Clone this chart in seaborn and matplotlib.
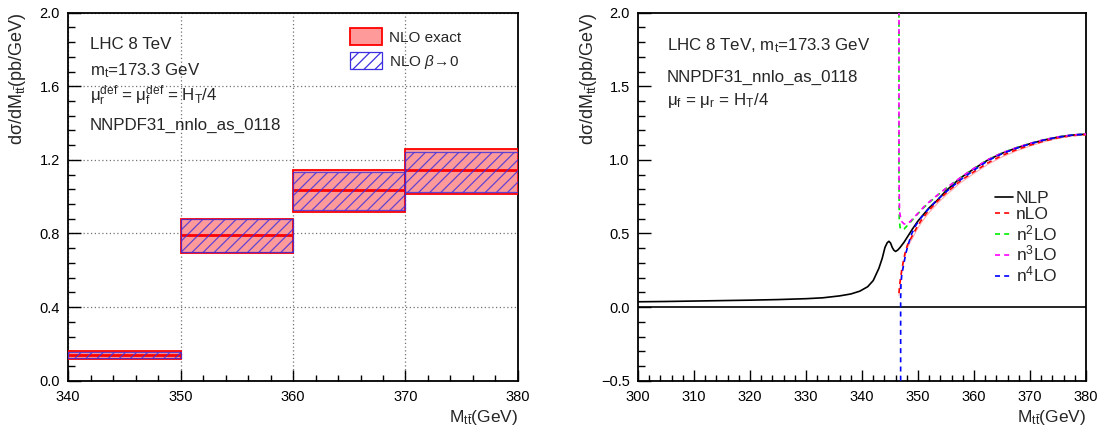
import numpy as np
import pandas as pd
import seaborn as sns
import matplotlib.pyplot as plt
from matplotlib.patches import Patch
from matplotlib.lines import Line2D

# ---- left panel: binned NLO cross section ----
bin_lo = [340, 350, 360, 370]
bin_hi = [350, 360, 370, 380]
nlo_central = [0.1375, 0.790, 1.038, 1.147]
nlo_down = [0.116, 0.692, 0.918, 1.015]
nlo_up = [0.159, 0.880, 1.147, 1.257]
beta0_down = [0.121, 0.697, 0.925, 1.027]
beta0_up = [0.154, 0.876, 1.136, 1.241]

# ---- right panel: threshold expansions ----
nlp_m = [300, 305, 310, 315, 320, 325, 330, 333, 336, 338, 339.6, 341, 342,
         343, 343.6, 344.1, 344.5, 344.8, 345.1, 345.4, 345.7, 346.0, 346.4,
         346.8, 347.5, 348, 349, 350, 351, 352, 353.3, 355, 357.5, 360, 362.5,
         365, 367.5, 370, 372.5, 375, 377.5, 380]
nlp_val = [0.036, 0.038, 0.041, 0.044, 0.047, 0.051, 0.057, 0.063, 0.076,
           0.089, 0.108, 0.138, 0.180, 0.262, 0.330, 0.405, 0.437, 0.447,
           0.435, 0.405, 0.386, 0.378, 0.388, 0.405, 0.440, 0.470, 0.530,
           0.585, 0.630, 0.675, 0.720, 0.790, 0.875, 0.940, 1.000, 1.045,
           1.080, 1.110, 1.135, 1.155, 1.168, 1.175]

nlo_m = [346.6, 346.75, 346.9, 347.1, 347.4, 347.7, 348.1, 348.6, 349.2,
         349.7, 350.5, 351.5, 352.5, 353.5, 355, 357.5, 360, 362.5, 365,
         367.5, 370, 372.5, 375, 377.5, 380]
nlo_val = [0.095, 0.16, 0.20, 0.254, 0.315, 0.370, 0.420, 0.458, 0.500,
           0.535, 0.585, 0.637, 0.680, 0.720, 0.775, 0.855, 0.920, 0.980,
           1.030, 1.068, 1.100, 1.128, 1.150, 1.165, 1.172]
lo_val = [0.08, 0.14, 0.18, 0.235, 0.295, 0.350, 0.400, 0.440, 0.482,
          0.518, 0.568, 0.620, 0.664, 0.705, 0.760, 0.842, 0.908, 0.970,
          1.020, 1.060, 1.094, 1.123, 1.146, 1.162, 1.170]

n2lo_m = [346.6, 346.6, 346.65, 346.8, 347.1, 347.5, 348.0, 348.6, 349.3,
          350, 351, 352, 353.5, 355.5, 358, 360, 362.5, 365, 367.5, 370,
          372.5, 375, 377.5, 380]
n2lo_val = [2.0, 0.9, 0.60, 0.54, 0.525, 0.530, 0.550, 0.575, 0.605, 0.635,
            0.675, 0.710, 0.760, 0.820, 0.890, 0.942, 1.002, 1.047, 1.082,
            1.112, 1.137, 1.156, 1.169, 1.176]

n3lo_m = [346.6, 346.6, 346.7, 347.0, 347.5, 348.1, 348.7, 349.4, 350.2,
          351, 352, 353.5, 355.5, 358, 360, 362.5, 365, 367.5, 370, 372.5,
          375, 377.5, 380]
n3lo_val = [2.0, 0.9, 0.65, 0.585, 0.565, 0.565, 0.585, 0.615, 0.645, 0.680,
            0.715, 0.762, 0.822, 0.891, 0.943, 1.002, 1.047, 1.082, 1.112,
            1.137, 1.156, 1.169, 1.176]

n4lo_m = [346.9, 346.9, 346.95, 347.1, 347.4, 347.8, 348.2, 348.9, 349.6,
          350.5, 351.6, 353, 355, 357.5, 360, 362.5, 365, 367.5, 370, 372.5,
          375, 377.5, 380]
n4lo_val = [-0.5, 0.05, 0.15, 0.22, 0.28, 0.36, 0.42, 0.50, 0.555, 0.605,
            0.655, 0.712, 0.782, 0.862, 0.930, 0.995, 1.042, 1.078, 1.109,
            1.135, 1.154, 1.168, 1.175]

sns.set_theme(style="ticks")
plt.rcParams.update({
    "font.family": ["Liberation Sans", "DejaVu Sans"],
    "mathtext.fontset": "custom",
    "mathtext.rm": "Liberation Sans",
    "mathtext.it": "Liberation Sans:italic",
    "mathtext.bf": "Liberation Sans:bold",
    "axes.linewidth": 1.3,
    "hatch.linewidth": 0.9,
    "xtick.direction": "in",
    "ytick.direction": "in",
})

fig = plt.figure(figsize=(11.04, 4.30), dpi=100)
ax1 = fig.add_axes([0.0616, 0.1147, 0.4076, 0.8558])
ax2 = fig.add_axes([0.5779, 0.1147, 0.4058, 0.8558])

ylab = "dσ/dM$_{\\mathrm{t\\bar{t}}}$(pb/GeV)"
xlab = "M$_{\\mathrm{t\\bar{t}}}$(GeV)"

# ---------- left ----------
red_fill = "#ff9a9a"
widths = np.array(bin_hi) - np.array(bin_lo)
centers = np.array(bin_lo) + widths / 2
ax1.bar(centers, np.array(nlo_up) - np.array(nlo_down), bottom=nlo_down,
        width=widths, color=red_fill, edgecolor="red", linewidth=1.3, zorder=3)
ax1.hlines(nlo_central, bin_lo, bin_hi, color="red", linewidth=2.0, zorder=4)
ax1.bar(centers, np.array(beta0_up) - np.array(beta0_down), bottom=beta0_down,
        width=widths, facecolor="none", edgecolor="#3a2ee0", linewidth=0.9,
        hatch="///", alpha=0.8, zorder=5)

ax1.set_xlim(340, 380)
ax1.set_ylim(0, 2.0)
ax1.set_xticks([340, 350, 360, 370, 380])
ax1.set_xticks(np.arange(340, 381, 2), minor=True)
ax1.set_yticks([0.0, 0.4, 0.8, 1.2, 1.6, 2.0])
ax1.set_yticks(np.arange(0, 2.001, 0.08), minor=True)
ax1.set_yticklabels(["0.0", "0.4", "0.8", "1.2", "1.6", "2.0"])
ax1.grid(True, which="major", linestyle=(0, (1, 2)), color="0.45",
         linewidth=0.9, zorder=0)
ax1.set_axisbelow(True)

ax1.legend(
    handles=[Patch(facecolor=red_fill, edgecolor="red", linewidth=1.3),
             Patch(facecolor="white", edgecolor="#3a2ee0", hatch="///",
                   linewidth=0.9)],
    labels=["NLO exact", "NLO $\\beta\\!\\rightarrow\\!0$"],
    loc="upper left", bbox_to_anchor=(0.627, 0.958), frameon=False,
    fontsize=11, handlelength=2.1, handleheight=1.3, handletextpad=0.45,
    labelspacing=0.5, borderpad=0, borderaxespad=0)

tk = dict(fontsize=12.2, transform=ax1.transAxes, va="baseline", ha="left")
ax1.text(0.049, 0.900, "LHC 8 TeV", **tk)
ax1.text(0.049, 0.831, "m$_{\\mathrm{t}}$=173.3 GeV", **tk)
ax1.text(0.049, 0.760, "μ$_{\\mathrm{r}}^{\\mathrm{def}}$ = μ$_{\\mathrm{f}}^{\\mathrm{def}}$ = H$_{\\mathrm{T}}$/4", **tk)
ax1.text(0.049, 0.681, "NNPDF31_nnlo_as_0118", **tk)

# ---------- right ----------
dash = (0, (3, 2.5))
ax2.axhline(0, color="black", linewidth=1.2, zorder=2)
sns.lineplot(x=nlo_m, y=lo_val, ax=ax2, color="#ffaaaa", linewidth=0.8,
             estimator=None, sort=False, zorder=3)
series = [
    (nlo_m, nlo_val, "red", "nLO", dash),
    (n2lo_m, n2lo_val, "#00ee00", "n$^{2}$LO", dash),
    (n3lo_m, n3lo_val, "#ff00ff", "n$^{3}$LO", (1.2, (3, 2.5))),
    (n4lo_m, n4lo_val, "#0000ff", "n$^{4}$LO", dash),
]
sns.lineplot(x=nlp_m, y=nlp_val, ax=ax2, color="black", linewidth=1.2,
             estimator=None, sort=False, zorder=4)
for xs, ys, col, lab, ls in series:
    sns.lineplot(x=xs, y=ys, ax=ax2, color=col, linewidth=1.2,
                 linestyle=ls, estimator=None, sort=False, zorder=5)

ax2.set_xlim(300, 380)
ax2.set_ylim(-0.5, 2.0)
ax2.set_xticks(np.arange(300, 381, 10))
ax2.set_xticks(np.arange(300, 381, 2), minor=True)
ax2.set_yticks([-0.5, 0.0, 0.5, 1.0, 1.5, 2.0])
ax2.set_yticks(np.arange(-0.5, 2.001, 0.1), minor=True)
ax2.set_yticklabels(["\u22120.5", "0.0", "0.5", "1.0", "1.5", "2.0"])

handles = [Line2D([], [], color="black", linewidth=1.2)]
handles += [Line2D([], [], color=s[2], linewidth=1.2, linestyle=dash)
            for s in series]
labels = ["NLP"] + [s[3] for s in series]
ax2.legend(handles=handles, labels=labels, loc="upper left",
           bbox_to_anchor=(0.797, 0.515), frameon=False, fontsize=12.5,
           handlelength=1.05, handletextpad=0.15, labelspacing=0.05,
           borderpad=0, borderaxespad=0)

tk2 = dict(fontsize=12.2, transform=ax2.transAxes, va="baseline", ha="left")
ax2.text(0.065, 0.899, "LHC 8 TeV, m$_{\\mathrm{t}}$=173.3 GeV", **tk2)
ax2.text(0.065, 0.812, "NNPDF31_nnlo_as_0118", **tk2)
ax2.text(0.065, 0.750, "μ$_{\\mathrm{f}}$ = μ$_{\\mathrm{r}}$ = H$_{\\mathrm{T}}$/4", **tk2)

for ax in (ax1, ax2):
    ax.tick_params(axis="both", which="both", top=False, right=False,
                   labelsize=10.5, colors="black")
    ax.tick_params(axis="x", which="major", length=7.7, width=1.0, pad=7)
    ax.tick_params(axis="x", which="minor", length=4.0, width=1.0)
    ax.tick_params(axis="y", which="major", length=9.6, width=1.0, pad=6)
    ax.tick_params(axis="y", which="minor", length=4.8, width=1.0)
    for sp in ax.spines.values():
        sp.set_color("black")
        sp.set_linewidth(1.3)
    ax.set_xlabel(xlab, fontsize=12.5, ha="right")
    ax.xaxis.set_label_coords(1.0, -0.074)
    ax.set_ylabel(ylab, fontsize=13, ha="right")
    ax.yaxis.set_label_coords(-0.088, 1.0)

fig.savefig("out.png", dpi=100)
